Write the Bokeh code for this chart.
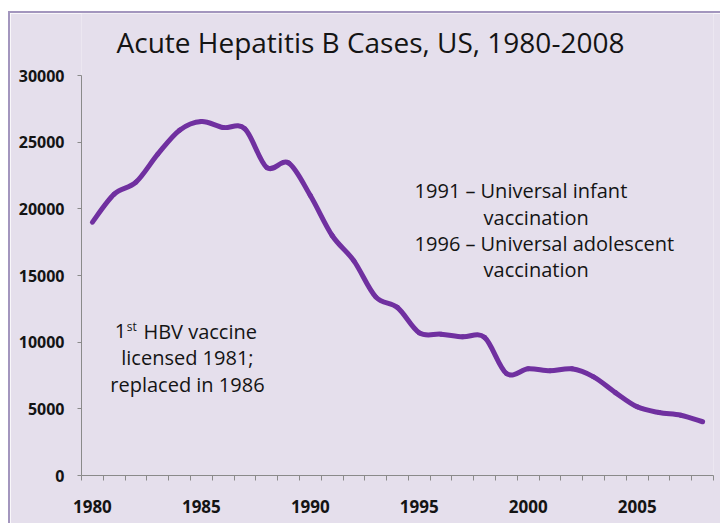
from bokeh.plotting import figure
from bokeh.models import Range1d, FixedTicker, Label
from bokeh.embed import file_html
from bokeh.resources import INLINE

# Acute hepatitis B cases reported in the US, by year
years = list(range(1980, 2009))
cases = [19000, 21100, 22000, 24100, 25900, 26550, 26100, 26000, 23100, 23450,
         21000, 18000, 16100, 13400, 12600, 10700, 10600, 10400, 10350, 7650,
         8000, 7850, 8000, 7400, 6220, 5150, 4720, 4520, 4030]

y_ticks = [0, 5000, 10000, 15000, 20000, 25000, 30000]
x_label_years = [1980, 1985, 1990, 1995, 2000, 2005]

title_text = "Acute Hepatitis B Cases, US, 1980-2008"
policy_years = ["1991 \u2013", "1996 \u2013"]
policy_texts = ["Universal infant", "Universal adolescent"]
vaccine_lines = ["licensed 1981;", "replaced in 1986"]

BG = "#E5DFEC"
LINE = "#7030A0"
TXT = "#141414"
FONT = "Open Sans"

p = figure(width=712, height=512,
           x_range=Range1d(1979.5, 2008.5), y_range=Range1d(0, 34650),
           output_backend="svg", toolbar_location=None,
           min_border_left=71, min_border_right=9,
           min_border_top=0, min_border_bottom=50,
           background_fill_color=BG, border_fill_color=BG,
           outline_line_color=None)
p.margin = (11, 0, 0, 8)
p.styles = {"border-top": "2px solid #A396BE", "border-left": "2px solid #A396BE"}
p.xgrid.visible = False
p.ygrid.visible = False

# y axis: plain value ticks pointing outwards
yax = p.yaxis[0]
yax.ticker = FixedTicker(ticks=y_ticks)
yax.bounds = (0, 30000)
yax.axis_line_color = "#8a8a8a"
yax.major_tick_line_color = "#8a8a8a"
yax.major_tick_out = 4
yax.major_tick_in = 0
yax.minor_tick_line_color = None
yax.major_label_standoff = 13
yax.major_label_text_font = FONT
yax.major_label_text_font_style = "bold"
yax.major_label_text_font_size = "16px"
yax.major_label_text_color = TXT

# x axis: category-style ticks between years, labels every five years
xax = p.xaxis[0]
xax.ticker = FixedTicker(ticks=x_label_years,
                         minor_ticks=[y - 0.5 for y in years] + [years[-1] + 0.5])
xax.bounds = (1979.5, 2008.5)
xax.axis_line_color = "#8a8a8a"
xax.major_tick_line_color = None
xax.major_tick_out = 0
xax.major_tick_in = 0
xax.minor_tick_line_color = "#8a8a8a"
xax.minor_tick_out = 5
xax.minor_tick_in = 0
xax.major_label_standoff = 19
xax.major_label_text_font = FONT
xax.major_label_text_font_style = "bold"
xax.major_label_text_font_size = "17px"
xax.major_label_text_color = TXT

# smoothed line: cubic Bezier segments with Catmull-Rom control points
ext_x = [years[0]] + years + [years[-1]]
ext_y = [cases[0]] + cases + [cases[-1]]
seg = dict(x0=[], y0=[], x1=[], y1=[], cx0=[], cy0=[], cx1=[], cy1=[])
for i in range(1, len(ext_x) - 2):
    px0, py0 = ext_x[i - 1], ext_y[i - 1]
    px1, py1 = ext_x[i], ext_y[i]
    px2, py2 = ext_x[i + 1], ext_y[i + 1]
    px3, py3 = ext_x[i + 2], ext_y[i + 2]
    seg["x0"].append(px1); seg["y0"].append(py1)
    seg["x1"].append(px2); seg["y1"].append(py2)
    seg["cx0"].append(px1 + (px2 - px0) / 6); seg["cy0"].append(py1 + (py2 - py0) / 6)
    seg["cx1"].append(px2 - (px3 - px1) / 6); seg["cy1"].append(py2 - (py3 - py1) / 6)
p.bezier(x0="x0", y0="y0", x1="x1", y1="y1", cx0="cx0", cy0="cy0", cx1="cx1", cy1="cy1",
         source=seg, line_color=LINE, line_width=5, line_cap="round")


def add_text(x, y, text, size, align="left", font_style="normal"):
    p.add_layout(Label(x=x, y=y, text=text, text_font=FONT, text_font_size=size,
                       text_color=TXT, text_align=align, text_baseline="alphabetic",
                       text_font_style=font_style))


# title
add_text(1992.76, 32550, title_text, "28px", align="center")

# policy notes
add_text(1997.58, 21383, policy_years[0], "20px", align="right")
add_text(1997.81, 21383, policy_texts[0], "20px")
add_text(1997.95, 19358, "vaccination", "20px")
add_text(1997.58, 17385, policy_years[1], "20px", align="right")
add_text(1997.81, 17385, policy_texts[1], "20px")
add_text(1997.95, 15435, "vaccination", "20px")

# vaccine note, first line with superscript ordinal
add_text(1981.02, 10808, "1", "20px")
add_text(1981.58, 11150, "st", "12px")
add_text(1982.34, 10808, "HBV vaccine", "20px")
add_text(1984.36, 8835, vaccine_lines[0], "20px", align="center")
add_text(1984.36, 6810, vaccine_lines[1], "20px", align="center")

open("out.html", "w").write(file_html(p, INLINE))
